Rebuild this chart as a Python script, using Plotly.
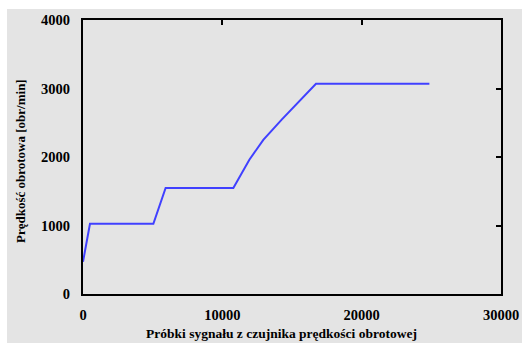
import plotly.graph_objects as go

# Rotational speed measured from the speed-sensor signal samples
samples = [0, 500, 5050, 5930, 10790, 11940, 12940, 14260, 16720, 24860]
speed_rpm = [470, 1025, 1025, 1548, 1548, 1960, 2250, 2545, 3068, 3068]

x_ticks = [0, 10000, 20000, 30000]
x_tick_text = ["0", "10000", "20000", "30000"]
y_ticks = [0, 1000, 2000, 3000, 4000]
y_tick_text = ["0", "1000", "2000", "3000", "4000"]

x_title = "Próbki sygnału z czujnika prędkości obrotowej"
y_title = "Prędkość obrotowa [obr/min]"

FONT = "Liberation Serif"
GRAY = "#e4e4e4"
W, H = 522, 343
ML, MR, MT, MB = 83, 21, 20, 49
PW, PH = W - ML - MR, H - MT - MB

fig = go.Figure()
fig.add_trace(go.Scatter(
    x=samples, y=speed_rpm, mode="lines",
    line=dict(color="#4040ff", width=2),
    showlegend=False, hoverinfo="skip",
))

tick_font = dict(family=FONT, size=14.5, color="black", weight="bold")

fig.update_layout(
    width=W, height=H,
    margin=dict(l=ML, r=MR, t=MT, b=MB),
    paper_bgcolor=GRAY,
    plot_bgcolor=GRAY,
    xaxis=dict(
        range=[0, 30000], tickvals=x_ticks, ticktext=x_tick_text, ticks="",
        showgrid=False, zeroline=False, automargin=False,
        showline=True, linecolor="black", linewidth=2, mirror=True,
        tickfont=tick_font, ticklabelstandoff=7,
    ),
    yaxis=dict(
        range=[0, 4000], tickvals=y_ticks, ticktext=y_tick_text, ticks="",
        showgrid=False, zeroline=False, automargin=False,
        showline=True, linecolor="black", linewidth=2, mirror=True,
        tickfont=tick_font, ticklabelstandoff=8,
    ),
    # inward tick marks along the top and right frame only
    xaxis2=dict(
        overlaying="x", matches="x", side="top", anchor="y",
        range=[0, 30000], tickvals=x_ticks, ticks="inside", ticklen=5,
        tickcolor="black", tickwidth=2, showticklabels=False,
        showgrid=False, zeroline=False, showline=False, automargin=False,
    ),
    yaxis2=dict(
        overlaying="y", matches="y", side="right", anchor="x",
        range=[0, 4000], tickvals=y_ticks, ticks="inside", ticklen=5,
        tickcolor="black", tickwidth=2, showticklabels=False,
        showgrid=False, zeroline=False, showline=False, automargin=False,
    ),
    shapes=[
        # white border strips along the top and left edge of the page
        dict(type="rect", xref="paper", yref="paper",
             x0=-ML / PW - 0.01, x1=(W - ML) / PW + 0.01,
             y0=(H - MB - 9) / PH, y1=(H - MB) / PH + 0.01,
             fillcolor="white", line=dict(width=0), layer="below"),
        dict(type="rect", xref="paper", yref="paper",
             x0=-ML / PW - 0.01, x1=(7 - ML) / PW,
             y0=-MB / PH - 0.01, y1=(H - MB) / PH + 0.01,
             fillcolor="white", line=dict(width=0), layer="below"),
    ],
    annotations=[
        dict(text=x_title, xref="paper", yref="paper",
             x=(281 - ML) / PW, y=(H - MB - 333) / PH,
             xanchor="center", yanchor="middle", showarrow=False,
             font=dict(family=FONT, size=13.5, color="black", weight="bold")),
        dict(text=y_title, xref="paper", yref="paper",
             x=(20 - ML) / PW, y=(H - MB - 161) / PH, textangle=-90,
             xanchor="center", yanchor="middle", showarrow=False,
             font=dict(family=FONT, size=13, color="black", weight="bold")),
    ],
)

# invisible companion trace so the overlay axes are laid out
fig.add_trace(go.Scatter(x=[], y=[], xaxis="x2", yaxis="y2",
                         showlegend=False, hoverinfo="skip"))

fig.write_html("out.html")
